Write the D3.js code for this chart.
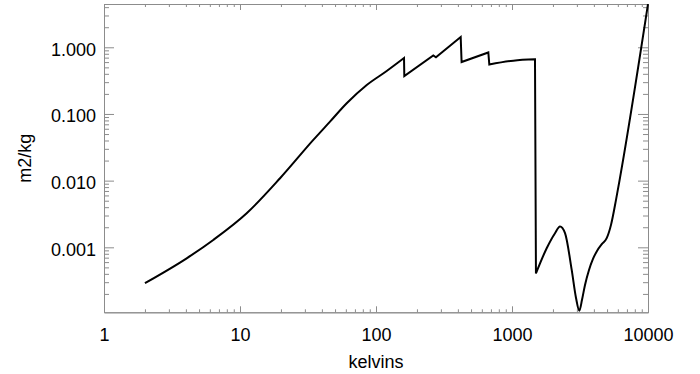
<!DOCTYPE html>
<html>
<head>
<meta charset="utf-8">
<script src="https://cdn.jsdelivr.net/npm/d3@7/dist/d3.min.js"></script>
<style>
  html, body { margin: 0; padding: 0; background: #fff; }
  svg { display: block; }
  text { font-family: "Liberation Sans", Arial, Helvetica, sans-serif; fill: #000; }
</style>
</head>
<body>
<svg id="chart" width="700" height="374"></svg>
<script>
// ---- data ----
const temps = [2, 4.08, 6.36, 11.2, 19.7, 34.6, 45.9, 60.9, 85.5, 119.9, 160.7,
  161.5, 263.8, 276, 419.5, 426, 669.7, 681, 1023, 1476,
  1500, 1799, 2071, 2254, 2454, 2748, 2956, 3126, 3272, 3442, 3683, 3940, 4217,
  4590, 4969, 5346, 5817, 6223, 10000];
const values = [2.9e-4, 6.9e-4, 1.29e-3, 3.24e-3, 0.01086, 0.0408, 0.0767, 0.1446, 0.272, 0.441, 0.69,
  0.371, 0.753, 0.708, 1.43, 0.602, 0.836, 0.552, 0.63, 0.66,
  4.06e-4, 9.69e-4, 1.627e-3, 2.05e-3, 1.63e-3, 4.58e-4, 1.74e-4, 1.12e-4, 1.63e-4, 2.73e-4, 4.58e-4, 6.7e-4, 8.83e-4,
  1.125e-3, 1.37e-3, 2.17e-3, 5.14e-3, 0.011, 4.45];
// temperatures after which the curve jumps (drawn as straight connectors)
const jumpsAfter = [160.7, 263.8, 419.5, 669.7, 1476];

const xMajor = [1, 10, 100, 1000, 10000];
const xLabels = ["1", "10", "100", "1000", "10000"];
const yMajor = [0.001, 0.01, 0.1, 1];
const yLabels = ["0.001", "0.010", "0.100", "1.000"];
const xDomain = [1, 10000];
const yDomain = [1.06e-4, 4.46];
const xTitle = "kelvins";
const yTitle = "m2/kg";

// ---- layout ----
const mLeft = 104, mRight = 648, mTop = 4, mBottom = 312.3;
const svg = d3.select("#chart");
const x = d3.scaleLog().domain(xDomain).range([mLeft, mRight]);
const y = d3.scaleLog().domain(yDomain).range([mBottom, mTop]);

const axisColor = "#8c8c8c";
const fontSize = 18;

function minorTicks(domain) {
  const out = [];
  const lo = Math.floor(Math.log10(domain[0])), hi = Math.ceil(Math.log10(domain[1]));
  for (let e = lo; e <= hi; e++) {
    for (let m = 2; m <= 9; m++) {
      const v = m * Math.pow(10, e);
      if (v >= domain[0] && v <= domain[1]) out.push(v);
    }
  }
  return out;
}
const xMinor = minorTicks(xDomain);
const yMinor = minorTicks(yDomain);

function styleAxis(g) {
  g.selectAll("path.domain").attr("stroke", axisColor).attr("stroke-width", 1);
  g.selectAll(".tick line").attr("stroke", axisColor).attr("stroke-width", 1);
  g.selectAll(".tick text").attr("font-size", fontSize).attr("fill", "#000")
    .style("font-family", '"Liberation Sans", Arial, Helvetica, sans-serif');
}

// bottom
const gb = svg.append("g").attr("transform", `translate(0,${mBottom})`)
  .call(d3.axisBottom(x).tickValues(xMajor).tickFormat((d, i) => xLabels[i])
    .tickSizeInner(-6).tickSizeOuter(0).tickPadding(15.6));
styleAxis(gb);
const gbm = svg.append("g").attr("transform", `translate(0,${mBottom})`)
  .call(d3.axisBottom(x).tickValues(xMinor).tickFormat("").tickSizeInner(-3).tickSizeOuter(0));
styleAxis(gbm);
// top
const gt = svg.append("g").attr("transform", `translate(0,${mTop})`)
  .call(d3.axisTop(x).tickValues(xMajor).tickFormat("").tickSizeInner(-6).tickSizeOuter(0));
styleAxis(gt);
const gtm = svg.append("g").attr("transform", `translate(0,${mTop})`)
  .call(d3.axisTop(x).tickValues(xMinor).tickFormat("").tickSizeInner(-3).tickSizeOuter(0));
styleAxis(gtm);
// left
const gl = svg.append("g").attr("transform", `translate(${mLeft},0)`)
  .call(d3.axisLeft(y).tickValues(yMajor).tickFormat((d, i) => yLabels[i])
    .tickSizeInner(-10).tickSizeOuter(0).tickPadding(8));
styleAxis(gl);
gl.selectAll(".tick text").attr("dy", "0.44em");
const glm = svg.append("g").attr("transform", `translate(${mLeft},0)`)
  .call(d3.axisLeft(y).tickValues(yMinor).tickFormat("").tickSizeInner(-5).tickSizeOuter(0));
styleAxis(glm);
// right
const gr = svg.append("g").attr("transform", `translate(${mRight},0)`)
  .call(d3.axisRight(y).tickValues(yMajor).tickFormat("").tickSizeInner(-10).tickSizeOuter(0));
styleAxis(gr);
const grm = svg.append("g").attr("transform", `translate(${mRight},0)`)
  .call(d3.axisRight(y).tickValues(yMinor).tickFormat("").tickSizeInner(-5).tickSizeOuter(0));
styleAxis(grm);

// titles
svg.append("text").attr("x", (mLeft + mRight) / 2).attr("y", 368)
  .attr("text-anchor", "middle").attr("font-size", fontSize).text(xTitle);
svg.append("text").attr("transform", `translate(30.5,${(mTop + mBottom) / 2}) rotate(-90)`)
  .attr("text-anchor", "middle").attr("font-size", fontSize).text(yTitle);

// ---- curve ----
const pts = temps.map((t, i) => ({ t, v: values[i] }));
const pieces = [];
let cur = [];
pts.forEach(p => {
  cur.push(p);
  if (jumpsAfter.includes(p.t)) { pieces.push(cur); cur = []; }
});
if (cur.length) pieces.push(cur);

const line = d3.line().x(d => x(d.t)).y(d => y(d.v)).curve(d3.curveMonotoneX);
let dStr = "";
pieces.forEach((pc, i) => {
  let s = line(pc);
  if (i > 0) s = "L" + s.slice(1);
  dStr += s;
});

svg.append("defs").append("clipPath").attr("id", "clip")
  .append("rect").attr("x", mLeft).attr("y", mTop - 1).attr("width", mRight - mLeft + 1).attr("height", mBottom - mTop + 2);

svg.append("path").attr("d", dStr).attr("fill", "none").attr("stroke", "#000")
  .attr("stroke-width", 2).attr("stroke-linejoin", "miter").attr("clip-path", "url(#clip)");
</script>
</body>
</html>
